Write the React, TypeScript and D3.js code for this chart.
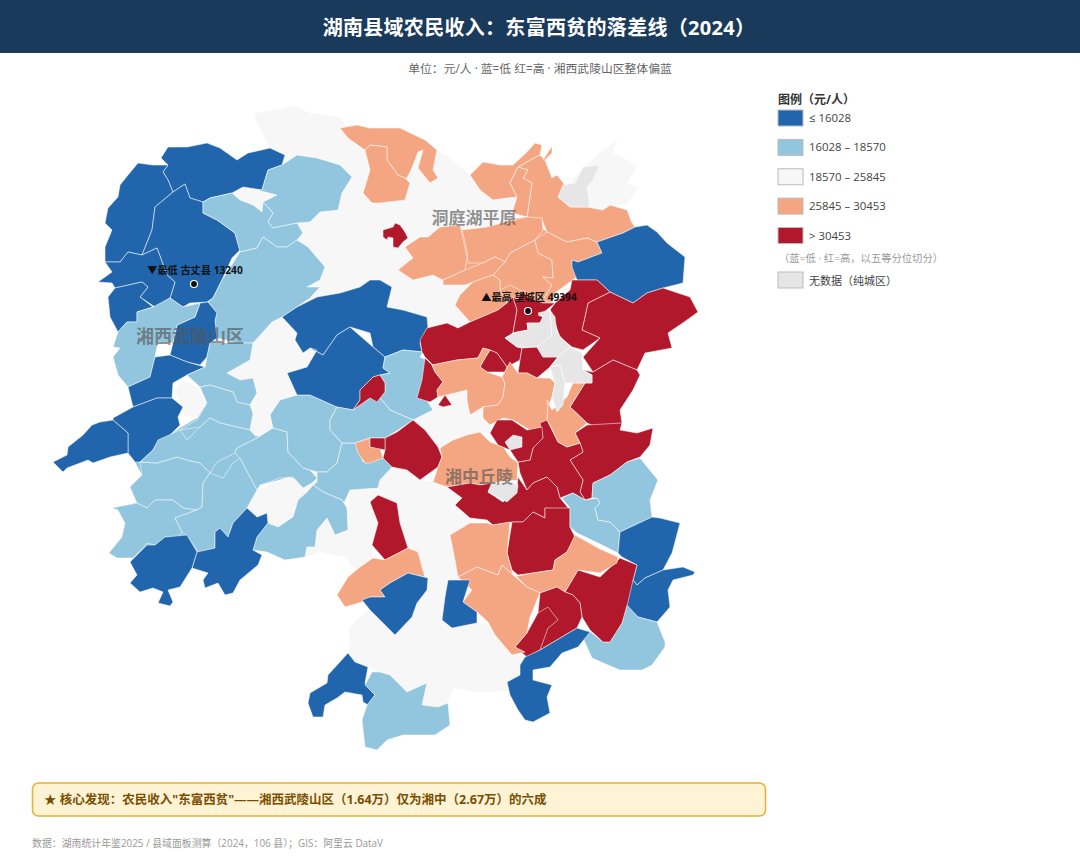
import * as d3 from "d3";

// 五等分位
const breaks = [16028, 18570, 25845, 30453];
const classColors = ["#2166ac", "#92c5de", "#f7f7f7", "#f4a582", "#b2182b"];
const noDataColor = "#e6e6e6";
const legendLabels = ["≤ 16028", "16028 – 18570", "18570 – 25845", "25845 – 30453", "> 30453"];

// county incomes are estimated from the colour class; same order as countyOutlines
const countyIncome: (number | null)[] = [
  // 白色底
  21000, 21500, 22000, 21000, 21000, 21000, 22000, 22000,
  // 西部
  15200, 15000, 13240, 14800, 15300, 17500, 17200, 17000, 15400, 17300, 15500, 15600, 15200,
  17200, 17100, 17000, 16900, 17400, 17600, 17300, 17500, 17700, 17200, 15500, 15000, 15700, 15800,
  17400, 17500, 31000,
  // 中北部
  28000, 28500, 27500, 29000, 28000, 27100, 27000, 29000, 28500, 27800, 28200, 28800, 31500,
  15800, 32000, 33000, 34000, 35000, 49394, 36000, 37000, 27600, 33500, 26500, 28300, 33200, 31700, 27200,
  // 东南
  34500, 33800, 35200, 34100, 33300, 28600, 33700, 17800, 17900, 15900, 15400, 17600, 33100, 28400, 31800, 31900,
  15500, 28200, 27900, 15700, 32200, 28900, 15300, 15200, 17000,
  // 无数据
  null, null, null, null, null, null, null,
];

const countyOutlines = [
  "253,113 273,110 293,105 307,112 340,117 348,128 348,138 365,150 370,170 363,193 372,203 405,200 410,183 407,178 412,168 418,152 423,150 418,168 430,183 438,178 433,170 437,150 450,158 470,175 480,190 493,200 507,198 517,197 512,213 513,220 487,227 462,230 460,225 440,227 428,237 420,237 405,247 413,258 398,270 413,280 433,275 443,280 443,285 465,285 473,282 460,295 455,305 470,322 458,328 447,323 427,328 420,340 428,327 427,317 403,310 387,307 392,287 380,280 370,280 360,287 340,293 317,297 297,307 310,298 320,287 307,287 320,280 325,267 308,247 297,240 303,233 297,223 310,222 320,212 338,210 342,193 352,177 340,165 317,158 297,155 282,165 285,155 270,148 260,130",
  "558,197 565,185 570,183 583,167 618,138 613,153 628,160 637,167 627,183 638,187 627,205 610,205 603,210 587,207 570,207",
  "232,193 243,188 253,183 257,190 277,195 263,202 262,212 253,205 240,200",
  "253,343 272,322 282,317 293,333 297,347 307,348 317,350 307,367 287,373 297,395 280,400 270,415 273,428 260,437 243,430 250,430 253,413 257,393 253,378 240,380 227,373 250,360",
  "172,392 183,380 197,387 207,403 197,418 183,415 178,397",
  "247,508 257,490 273,483 290,477 303,483 303,470 317,473 317,482 307,492 298,500 293,517 278,527 268,523 267,513 257,517",
  "315,547 317,530 327,518 335,535 348,530 348,507 350,490 378,488 378,495 370,502 373,510 378,523 372,545 373,558 360,567 352,568 347,558 320,552 305,557 307,547",
  "423,380 420,390 417,398 430,402 438,405 443,407 452,405 445,395 455,393 467,390 467,400 470,415 483,407 483,418 490,425 490,433 480,432 467,435 453,440 440,448 438,447 425,430 413,420 433,410 420,390",

  "161,158 168,147 187,147 207,143 220,148 237,160 248,153 270,148 285,155 282,165 268,170 262,190 243,187 232,193 210,198 203,202 190,198 185,184 173,192 168,180 163,172 168,165",
  "168,165 163,172 168,180 173,192 155,207 152,230 142,255 128,252 120,262 105,262 105,247 112,230 105,223 108,208 118,197 120,185 128,175 138,163 153,165",
  "173,192 185,184 190,198 203,202 203,213 217,220 235,233 240,250 232,258 222,280 213,298 207,302 190,303 183,307 170,298 175,282 167,275 157,248 142,255 152,230 155,207",
  "142,255 157,248 167,275 175,282 170,298 155,307 140,297 148,287 142,282 115,288 112,283 98,282 112,272 105,262 120,262 128,252",
  "115,288 142,282 148,287 140,297 153,307 137,312 137,322 127,322 118,332 110,317 108,297",
  "262,190 268,170 282,165 297,155 317,158 340,165 352,177 342,193 338,210 320,212 310,222 297,223 273,228 268,222 273,213 263,202 277,195 257,190",
  "203,202 210,198 232,193 240,200 253,205 262,212 263,202 273,213 268,222 273,228 297,223 303,233 297,240 287,247 277,247 263,237 257,248 240,252 235,233 217,220 203,213",
  "240,252 257,248 263,237 277,247 287,247 297,240 308,247 325,267 320,280 307,287 320,287 310,298 297,307 282,317 272,322 253,343 237,343 217,338 215,320 217,313 208,302 213,298 222,280",
  "177,325 195,317 200,303 208,302 217,313 215,320 217,338 210,343 207,357 200,365 187,362 170,355 173,343",
  "137,312 153,307 170,298 183,307 200,303 195,317 177,325 173,343 158,342 155,357 150,377 128,387 118,375 113,357 120,348 113,347 118,332 127,322 137,322",
  "128,387 150,377 155,357 170,355 187,362 205,367 187,375 173,383 172,398 157,398 133,407",
  "133,407 157,398 172,398 183,407 178,417 180,425 168,437 157,443 153,450 140,462 135,462 128,453 128,433 113,420 113,418",
  "53,462 67,455 68,447 83,435 92,425 100,422 113,420 128,433 128,453 110,457 93,463 88,460 67,468 63,472",
  "187,375 205,367 207,357 210,343 237,343 253,343 250,360 227,373 240,380 253,378 257,393 250,405 237,402 233,392 210,385 200,387",
  "200,387 210,385 233,392 237,402 250,405 253,413 250,430 220,423 210,418 200,427 180,430 197,420 207,403",
  "140,462 157,463 177,457 187,460 200,463 210,473 203,483 202,507 197,510 183,508 173,500 155,500 147,508 137,503 130,487 142,475",
  "112,508 137,503 147,508 155,500 173,500 183,508 197,510 175,518 182,532 177,537 165,537 155,545 147,543 133,558 117,558 109,553 122,537 125,523 118,510",
  "202,507 203,483 210,473 223,478 233,463 240,458 257,490 247,508 233,523 228,537 220,528 215,532 215,548 200,552 195,558 197,550 188,537 182,532 175,518 197,510",
  "153,450 158,440 180,430 187,440 200,427 210,418 220,423 250,430 257,438 237,448 235,453 217,462 210,473 200,463 187,460 177,457 157,463 140,462",
  "240,458 235,453 237,448 257,438 273,428 287,432 288,452 303,468 310,470 317,478 312,483 303,488 293,477 280,478 260,485 257,490",
  "270,415 280,400 297,395 310,395 337,407 330,420 330,430 342,443 337,463 327,472 317,472 310,470 303,468 288,452 287,432 273,428",
  "317,472 327,472 337,463 342,443 357,443 363,462 370,457 383,458 392,467 380,480 378,488 350,490 343,505 347,508 342,500 323,492 313,485 317,482",
  "313,485 323,492 342,500 347,508 348,530 335,535 327,518 317,530 315,547 307,547 305,557 285,560 267,552 253,550 257,537 268,523 278,527 293,517 298,500 307,492",
  "282,317 297,307 317,297 340,293 360,287 370,280 380,280 392,287 387,307 403,310 427,317 428,327 420,343 422,352 403,350 385,357 373,347 370,333 350,327 337,335 323,355 310,348 303,353 295,340 297,333",
  "323,355 337,335 350,327 373,347 385,357 383,368 390,373 380,375 373,377 360,390 360,400 353,410 337,407 310,395 297,395 287,373 307,367 317,350 310,348",
  "247,508 257,517 267,513 268,523 257,537 253,550 262,555 258,565 240,580 233,593 225,595 218,583 205,588 203,580 208,573 192,568 197,552 215,548 215,532 220,528 228,537 233,523",
  "130,562 147,545 155,545 165,537 187,535 197,552 192,568 180,587 168,590 173,602 170,606 158,603 163,592 153,588 140,592 130,583 137,575",
  "380,398 385,392 385,383 380,375 390,373 383,368 385,357 403,350 423,352 420,357 427,360 423,380 420,390 433,410 413,420 390,410",
  "330,420 337,407 353,410 370,398 380,398 390,410 413,420 395,432 385,438 370,438 355,443 342,443 330,430",
  "353,410 360,400 360,390 373,377 380,375 385,383 385,392 377,402 370,398",

  "340,128 357,125 370,128 400,128 425,140 437,150 433,170 438,178 430,183 418,168 423,150 418,152 412,168 407,178 405,178 398,175 387,160 387,147 370,145 365,150 348,138",
  "365,150 370,145 387,147 387,160 398,175 405,178 410,183 405,200 380,203 372,203 363,193 370,170",
  "470,175 483,162 500,165 513,165 527,152 535,143 542,145 540,155 527,162 518,167 510,183 517,197 507,198 493,200 480,190",
  "527,162 540,155 545,160 552,178 557,175 565,185 558,197 570,207 587,207 603,210 610,205 627,210 632,223 635,227 623,233 597,242 587,238 567,242 547,232 542,220 527,217 532,183 523,178 528,170 518,167",
  "510,183 518,167 528,170 523,178 532,183 527,217 512,213 517,197",
  "543,160 552,146 552,153 545,160",
  "462,230 487,227 513,220 527,217 542,218 543,230 535,240 510,253 505,262 495,257 483,263 468,263 467,250",
  "428,237 440,227 460,225 467,257 465,270 443,280 433,275 413,280 398,270 413,258 405,247 420,237",
  "443,280 465,270 483,263 495,257 505,262 493,275 473,282 465,285 443,285",
  "493,275 505,262 510,253 535,240 538,253 552,260 553,278 543,277 552,285 543,300 535,295 520,290 510,285 500,290 500,280",
  "473,282 493,275 500,280 500,290 507,303 498,310 470,322 455,305 460,295",
  "535,240 547,232 567,242 587,238 597,242 602,253 578,262 572,260 577,277 572,280 555,293 552,303 543,300 552,285 543,277 553,278 552,260 538,253",
  "383,230 393,227 395,223 400,225 405,232 408,238 403,242 398,248 393,247 393,238 388,237 387,240 383,237",

  "572,260 578,262 602,253 597,242 623,233 635,227 647,225 657,232 667,243 685,257 683,283 663,288 647,293 633,303 610,292 597,280 577,280 572,267",
  "633,303 647,293 663,288 690,297 698,312 687,320 668,333 672,348 645,353 637,370 613,360 593,372 583,357 600,338 582,330 588,303 610,292",
  "572,280 577,280 597,280 610,292 588,303 582,330 600,338 583,350 572,347 560,337 550,310 555,303 570,290",
  "420,340 427,328 447,323 458,328 470,322 498,310 507,303 513,297 517,310 513,333 505,338 517,347 522,348 520,360 507,367 497,353 490,350 483,348 478,358 457,360 433,365 425,357 422,352",
  "480,367 485,358 490,350 497,353 507,367 505,372 487,372",
  "513,297 518,300 523,290 527,297 543,303 555,303 543,313 538,315 543,317 540,323 527,323 528,330 517,332 513,333 517,310",
  "518,373 520,360 522,348 537,347 543,357 558,357 550,367 537,378 527,373",
  "425,358 432,365 435,372 443,382 437,390 438,397 430,402 417,398 422,380",
  "432,365 457,360 478,358 483,348 490,350 485,358 480,367 487,372 502,377 505,383 503,397 498,405 483,407 470,415 467,400 467,390 455,393 438,397 437,390 443,382 435,372",
  "438,405 445,395 452,405 443,407",
  "355,443 370,438 370,447 380,448 383,458 370,463 365,463 358,453",
  "483,407 498,405 503,397 505,383 502,377 510,362 518,373 527,373 537,378 550,378 555,383 552,397 548,407 547,420 542,427 530,430 513,420 503,418 490,425 483,418",
  "385,450 385,438 397,432 413,420 425,430 438,447 442,457 438,467 420,480 407,470 392,467 383,458",
  "370,447 370,438 385,438 385,450",
  "440,448 453,440 467,435 480,432 490,442 503,447 510,457 518,463 517,477 518,480 490,483 480,485 470,483 447,487 433,482 438,467 442,457",

  "570,407 585,383 592,383 592,375 583,370 593,372 613,360 637,370 640,375 633,390 620,410 622,423 603,430 587,423",
  "575,433 587,425 622,423 620,430 637,433 653,428 650,445 640,457 627,462 610,475 593,483 592,498 585,500 580,492 583,480 570,460 583,452 580,443",
  "540,423 547,420 558,442 567,447 580,443 583,452 570,460 583,480 580,492 585,500 573,493 560,498 557,487 547,477 533,483 527,490 520,473 518,462 530,460 533,448 543,438",
  "490,433 497,420 512,420 527,430 542,427 543,438 533,448 530,460 518,462 510,450 498,445",
  "447,487 470,483 480,485 492,483 488,492 503,502 517,488 518,477 527,490 533,483 547,477 557,487 560,498 570,510 545,508 545,518 533,512 523,522 512,522 493,525 487,520 470,518 455,505 462,498",
  "547,400 552,410 567,397 573,383 585,383 570,407 587,423 575,433 580,443 567,447 558,442 550,425 547,420 548,407",
  "512,522 523,522 533,512 545,518 545,508 570,508 570,527 575,537 567,552 555,560 553,570 533,573 518,575 512,570 507,553",
  "562,498 573,493 585,500 597,498 600,503 595,508 598,520 610,522 620,532 618,553 598,543 577,533 570,527 570,508",
  "593,483 610,475 627,462 640,458 648,468 658,480 650,500 652,517 620,532 610,522 598,520 595,508 600,503 597,498 592,498",
  "620,532 652,517 660,518 680,523 675,542 672,553 663,570 645,578 637,585 633,580 637,565 622,557 618,553",
  "637,585 645,578 663,570 683,567 695,572 693,575 673,580 668,590 670,607 657,622 638,617 628,607 623,603 633,580",
  "583,638 588,630 603,642 610,642 622,623 627,605 638,617 657,622 665,642 665,647 652,665 642,670 620,670 608,665 592,658",
  "565,592 578,570 600,577 620,558 637,565 633,580 628,602 622,623 610,642 603,642 590,630 582,617 580,603 573,595",
  "513,577 533,573 553,570 555,560 567,552 575,535 598,548 618,557 617,563 600,573 578,570 565,592 557,587 540,593 527,587 517,577",
  "540,593 557,587 565,592 573,595 580,603 582,617 577,628 540,650 527,657 515,647 527,633 538,613",
  "538,613 548,607 558,620 548,628 540,650 527,657 515,647 527,633",

  "525,657 540,650 577,628 590,632 578,647 562,653 550,667 533,670 533,680 552,685 547,697 550,713 533,722 525,720 518,710 510,695 507,682 520,675 520,665",
  "450,535 470,523 487,523 493,525 510,522 507,553 513,575 502,565 498,575 477,567 458,577 455,560",
  "458,577 477,567 498,575 502,565 513,575 527,587 540,593 530,617 527,633 515,647 525,652 512,655 495,635 488,622 477,612 463,602 472,590",
  "448,580 470,580 463,602 477,612 477,623 452,628 442,620 445,597",
  "370,502 378,495 397,503 400,523 408,548 385,560 372,545 378,523 373,510",
  "337,595 348,577 360,567 373,558 385,560 408,548 418,552 422,567 425,577 408,573 390,583 380,590 385,597 370,597 362,602 345,607",
  "362,600 370,597 385,597 380,590 390,583 408,573 428,578 427,590 417,603 412,617 395,635 382,622 370,610",
  "310,693 327,683 328,675 348,653 355,662 368,667 365,683 375,695 368,705 363,702 362,695 345,692 337,698 325,705 323,717 313,717 308,703",
  "365,685 372,672 380,672 390,675 407,692 427,683 422,705 438,707 448,703 450,725 435,735 403,735 387,740 377,750 365,747 362,720 367,705 375,695",

  "558,197 563,185 575,183 583,167 600,165 593,180 587,187 590,207 570,207",
  "505,338 517,332 528,330 527,323 540,323 543,317 538,313 550,310 552,335 540,345 537,347 522,347 517,347",
  "550,310 555,317 557,333 570,347 564,352 558,357 543,357 537,347 540,345 552,335",
  "570,347 582,353 583,370 592,375 592,383 565,383 560,365 550,367 558,357 564,352",
  "550,367 560,365 565,383 563,405 557,412 552,397 555,383",
  "505,442 513,435 522,437 522,447 510,450",
  "492,483 510,482 518,485 517,493 507,502 488,492",
];

// 南部白色县 (also class 3, drawn first)
const southOutline =
  "350,653 350,627 365,613 370,610 382,622 395,635 412,617 417,603 427,590 428,578 437,575 447,580 445,597 442,620 452,628 477,623 502,628 495,635 512,655 525,657 520,665 520,675 507,682 510,690 477,692 453,687 448,703 438,707 422,705 427,683 407,692 390,675 380,672 368,667 355,662";
const southMidOutline =
  "378,488 380,480 392,467 407,470 420,480 433,482 447,487 462,498 455,505 470,518 470,523 450,535 455,560 458,577 472,590 463,602 470,580 448,580 437,575 428,578 425,577 418,552 408,548 400,523 397,503 378,495";
// backfill under the traced counties so neighbours of one class do not leave slivers
const underlayOutlines = [
  "135,462 170,435 180,428 197,418 207,400 233,392 250,405 255,425 243,430 260,437 273,428 288,452 303,468 313,485 298,500 290,477 260,485 247,508 233,523 215,548 197,552 175,545 147,545 133,558 117,558 109,553 122,537 125,523 118,510 112,508 137,503 130,487 142,475",
  "405,247 428,237 460,225 527,217 547,232 597,242 602,253 578,262 572,260 577,277 555,293 552,303 540,310 507,303 470,322 455,305 460,295 473,282 443,285 413,280 398,270 413,258",
];
const underlayIncome = [17200, 28000];

const regionLabels = ["洞庭湖平原", "湘西武陵山区", "湘中丘陵"];
const regionAnchors = [[474, 224], [190, 343], [479, 483]];
const extremeLabels = ["▼最低 古丈县 13240", "▲最高 望城区 49394"];
const extremePoints = [[194, 284], [528, 311]];

const parseRing = (s: string) => {
  const pts = s.split(" ").map((p) => p.split(",").map(Number));
  return [...pts, pts[0]];
};
const toPolygon = (s: string) => ({ type: "Polygon", coordinates: [parseRing(s)] });

const mapPath = d3.geoPath(d3.geoIdentity() as any);
const colorScale = d3.scaleThreshold<number, string>().domain(breaks).range(classColors);
const fillOf = (v: number | null) => (v === null ? noDataColor : colorScale(v));

const FONT = '"Open Sans", "Noto Sans CJK SC", sans-serif';
const legendY = d3.scalePoint<number>().domain([0, 1, 2, 3, 4]).range([117.5, 235]);

export default function App() {
  return (
    <svg
      width={1080}
      height={860}
      style={{ position: "absolute", left: 0, top: 0, background: "#fff", fontFamily: FONT }}
    >
      <rect x={0} y={0} width={1080} height={53} fill="#1a3a5c" />
      <text x={539} y={35} textAnchor="middle" fontSize={20} fontWeight={700} fill="#fff" letterSpacing={0.3}>
        湖南县域农民收入：东富西贫的落差线（2024）
      </text>
      <text x={540} y={73} textAnchor="middle" fontSize={11.8} fill="#666">
        单位：元/人 · 蓝=低 红=高 · 湘西武陵山区整体偏蓝
      </text>

      <g stroke="#f7f7f7" strokeWidth={0.7} strokeLinejoin="round">
        {[southOutline, southMidOutline].map((s, i) => (
          <path key={i} d={mapPath(toPolygon(s) as any) ?? ""} fill={classColors[2]} />
        ))}
        {underlayOutlines.map((s, i) => (
          <path key={i} d={mapPath(toPolygon(s) as any) ?? ""} fill={fillOf(underlayIncome[i])} stroke="none" />
        ))}
      </g>
      <g stroke="#fff" strokeWidth={0.7} strokeOpacity={0.75} strokeLinejoin="round">
        {countyOutlines.map((s, i) => (
          <path key={i} d={mapPath(toPolygon(s) as any) ?? ""} fill={fillOf(countyIncome[i])} />
        ))}
      </g>

      {regionLabels.map((t, i) => (
        <text
          key={t}
          x={regionAnchors[i][0]}
          y={regionAnchors[i][1]}
          textAnchor="middle"
          fontSize={i === 1 ? 18 : 17}
          fontWeight={700}
          fill="#555"
          fillOpacity={0.65}
        >
          {t}
        </text>
      ))}

      {extremeLabels.map((t, i) => (
        <g key={t}>
          <circle cx={extremePoints[i][0]} cy={extremePoints[i][1]} r={3.5} fill="#111" stroke="#fff" strokeWidth={1.2} />
          <text x={extremePoints[i][0] + 1} y={extremePoints[i][1] - 10} textAnchor="middle" fontSize={10.2} fontWeight={700} fill="#111">
            {t}
          </text>
        </g>
      ))}

      <text x={778} y={104} fontSize={12} fontWeight={700} fill="#333">图例（元/人）</text>
      {legendLabels.map((t, i) => (
        <g key={t}>
          <rect x={778} y={legendY(i)! - 7.5} width={25} height={16} fill={classColors[i]} stroke="#bbb" />
          <text x={809} y={legendY(i)! + 4.5} fontSize={11.4} fill="#444">{t}</text>
        </g>
      ))}
      <text x={779} y={262} fontSize={10.3} fill="#999">（蓝=低 · 红=高，以五等分位切分）</text>
      <rect x={778} y={272} width={25} height={16} fill={noDataColor} stroke="#bbb" />
      <text x={809} y={285} fontSize={11} fill="#444">无数据（纯城区）</text>

      <rect x={32.5} y={783} width={733} height={33} rx={6} fill="#fff3d6" stroke="#e6b030" strokeWidth={1.5} />
      <text x={44} y={804} fontSize={12.5} fontWeight={700} fill="#7a4f00">
        ★ 核心发现：农民收入"东富西贫"——湘西武陵山区（1.64万）仅为湘中（2.67万）的六成
      </text>
      <text x={32} y={847} fontSize={9.9} fill="#999">
        数据：湖南统计年鉴2025 / 县域面板测算（2024，106 县）；GIS：阿里云 DataV
      </text>
    </svg>
  );
}
